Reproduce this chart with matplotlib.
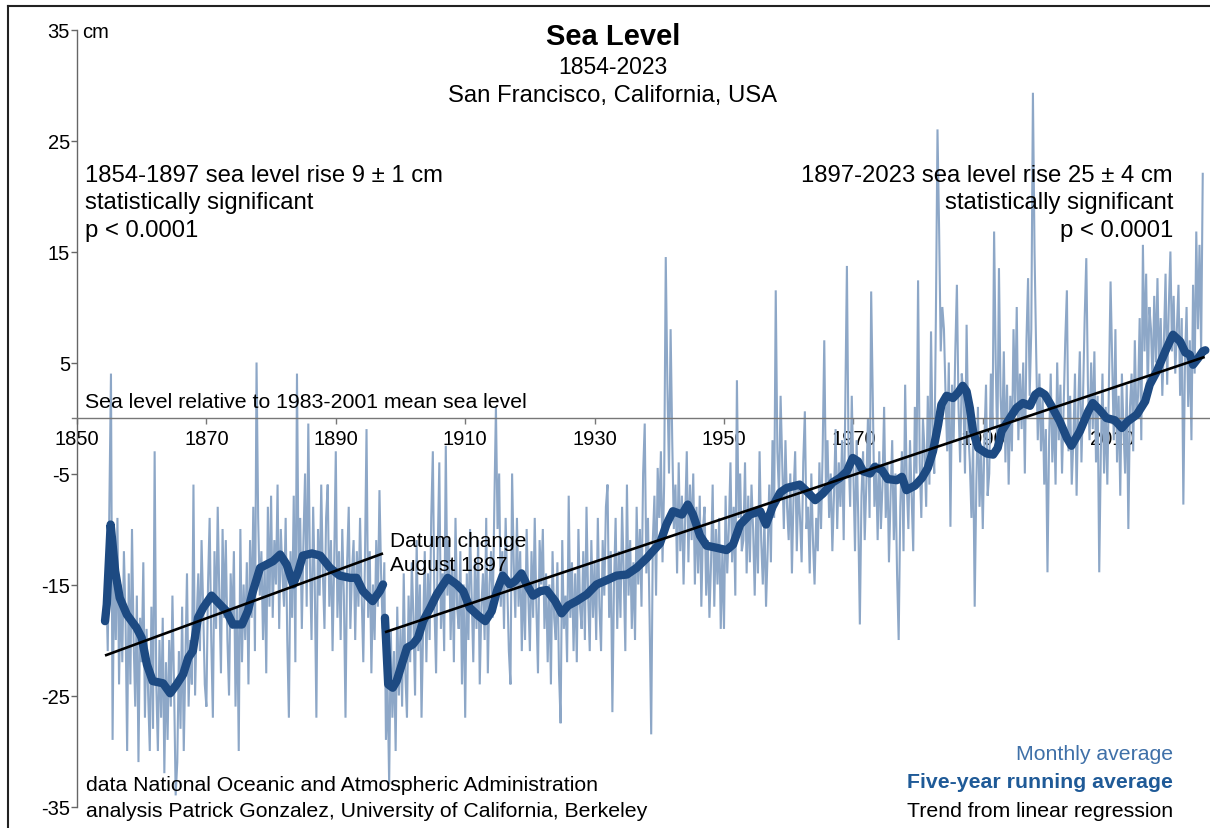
import numpy as np
import matplotlib
matplotlib.use("Agg")
import matplotlib.pyplot as plt

plt.rcParams['font.family'] = ['Liberation Sans', 'DejaVu Sans']
plt.rcParams['axes.unicode_minus'] = False

# ---------------- data ----------------
# monthly average, sampled quarterly (cm), segment before datum change
monthly1_start = 1854.25
monthly1 = [
    -17, -14, -21,
    -8, 4, -29, -12,
    -20, -9, -24, -15,
    -22, -12, -18, -30,
    -14, -24, -10, -20,
    -26, -16, -31, -18,
    -22, -13, -27, -19,
    -25, -30, -17, -28,
    -3, -24, -30, -20,
    -27, -18, -32, -22,
    -29, -20, -26, -16,
    -24, -34, -31, -21,
    -28, -17, -30, -22,
    -14, -26, -20, -24,
    -6, -25, -18, -14,
    -21, -11, -17, -24,
    -26, -15, -9, -20,
    -27, -12, -19, -8,
    -16, -23, -10, -18,
    -11, -20, -25, -14,
    -19, -12, -26, -17,
    -30, -10, -22, -15,
    -20, -13, -24, -11,
    -18, -8, -21, 5,
    -9, -16, -12, -20,
    -13, -23, -8, -17,
    -7, -18, -11, -15,
    -6, -19, -10, -14,
    -17, -9, -20, -27,
    -12, -18, -7, -22,
    4, -14, -9, -19,
    -11, -5, -17, -0.5,
    -13, -20, -8, -15,
    -27, -10, -16, -6,
    -14, -19, -9, -6,
    -17, -11, -21, -13,
    -3, -18, -12, -20,
    -10, -16, -27, -13,
    -8, -19, -14, -11,
    -20, -12, -17, -9,
    -16, -22, -13, -1,
    -18, -12, -23, -15,
    -20, -11, -17, -6.5,
    -14, -19, -13,
]
# monthly average, sampled quarterly (cm), segment after datum change
monthly2_start = 1897.75
monthly2 = [
    -29,
    -24, -33, -19, -27,
    -21, -30, -17, -25,
    -19, -26, -14, -23,
    -27, -16, -22, -13,
    -18, -25, -11, -21,
    -15, -27, -19, -12,
    -22, -14, -20, -9,
    -3, -17, -23, -12,
    -4, -19, -14, -21,
    -2.5, -16, -11, -20,
    -13, -22, -9, -17,
    -19, -12, -24, -15,
    -27, -14, -20, -10,
    -16, -22, -13, -19,
    -11, -24, -17, -14,
    -20, -9, -23, -15,
    -12, -18, -8, 1,
    -10, -5, -17, -12,
    -19, -9, -15, -21,
    -24, -5, -13, -18,
    -9, -17, -12, -21,
    -14, -20, -10, -16,
    -21, -12, -18, -9,
    -17, -23, -11, -15,
    -10, -19, -14, -22,
    -15, -24, -12, -18,
    -20, -13, -23, -27.5,
    -11, -19, -16, -22,
    -7, -18, -13, -21,
    -14, -22, -10, -17,
    -19, -12, -20, -8,
    -16, -21, -11, -18,
    -13, -20, -9, -17,
    -21, -11, -16, -8,
    -6, -18, -12, -26.5,
    -15, -9, -19, -12,
    -18, -8, -14, -21,
    -6, -16, -11, -19,
    -13, -20, -8, -15,
    -10, -17, -5, -0.5,
    -14, -9, -18, -28.5,
    -11, -7, -16, -4.5,
    -9, -3, -13, -6,
    14.5, 3, -5, 8,
    -2, -10, -6, -14,
    -4, -12, -7, -15,
    -9, -3, -13, -6,
    -11, -5, -15, -8,
    -14, -7, -17, -10,
    -8, -16, -11, -18,
    -13, -6, -17, -10,
    -15, -9, -19, -12,
    -19, -7, -14, -10,
    -4, -13, -8, -16,
    3.4, -9, -5, -12,
    -11, -4, -14, -7,
    -13, -6, -10, -16,
    -8, -14, -3, -11,
    -15, -9, -17, -12,
    -6, -13, -2, -9,
    11.5, -3, -7, 2,
    -4, -10, -2, -8,
    -11, -5, -14, -7,
    -3, -12, -6, -9,
    -13, -4, 0.6, -10,
    -8, -14, -5, -11,
    -15, -9, -12, -4,
    -10, -3, 7, -6,
    -2, -9, -5, -12,
    -7, -1, -10, -4,
    -8, -2, -11, 1,
    13.7, -3, -8, 2,
    -5, -12, -2, -9,
    -18.6, -7, -3, -11,
    -6, 0, -9, 11.4,
    2, -8, -4, -11,
    -3, -10, -6, 1,
    -9, -4, -13, -7,
    -2, -11, -5, -14,
    -20, -8, -3, -12,
    3, -6, -10, -2,
    -7, -12, 1, -5,
    12.4, -4, -9, 0,
    -3, -8, 2, -6,
    7.8, -2, -5, 9,
    26, 17, 6, 10,
    8, 2, -3, 5,
    -9.8, 3, -2, 6,
    12, 1, -4, 4,
    2, -5, 8.4, -1,
    -4, -9, -2, -17,
    -6, 1, -8, -3,
    -10, -2, 3, -7,
    -5, 4, -1, 16.8,
    5, -3, 13.5, 2,
    -2, 6, -4, 3,
    -6, 2, -3, 8,
    1, 10, -2, 4,
    -1, 5, -5, 7,
    12.6, 2, 8, 29.3,
    15, 6, -2, 4,
    -3, 2, -6, -1,
    -13.9, -2, 4, -4,
    1, -6, 5, -2,
    3, -5, 1, 7,
    11.5, -3, 2, -6,
    -2, 4, -7, 1,
    6, -4, 2, 9,
    14.4, 3, -2, 5,
    -1, 6, -4, 2,
    -13.9, -3, 4, -5,
    1, -6, 3, 12.3,
    5, -2, 8, -4,
    2, -7, 4, -1,
    -5, 3, -10, 1,
    4, -3, 7, 0,
    2, 9, -2, 15.6,
    6, 13, 2, 10,
    8, 3, 11, 5,
    12.6, 4, 9, 2,
    7, 13, 3, 10,
    15, 6, 11, 4,
    8, 12, 2, 9,
    -7.8, 5, 10, 1,
    7, -2, 12, 4,
    16.8, 8, 15.6, 6,
    22,
]

# five-year running average (year, cm)
ra1_years = [1854.33, 1854.6, 1855.2, 1855.9, 1856.6, 1857.7, 1859.2, 1860.0, 1860.8, 1861.7,
             1863.3, 1864.4, 1865.4, 1866.4, 1867.2, 1867.9, 1868.7, 1869.5, 1870.8, 1872.1,
             1873.1, 1874.1, 1875.5, 1876.4, 1877.2, 1878.3, 1879.3, 1880.3, 1881.4, 1882.4,
             1883.4, 1884.2, 1884.9, 1886.3, 1887.6, 1889.1, 1890.6, 1892.2, 1893.2, 1894.2,
             1895.7, 1896.8, 1897.3]
ra1_values = [-18.3, -16.8, -9.6, -13.8, -16.2, -17.7, -18.9, -19.8, -22.2, -23.7,
              -23.9, -24.8, -24.0, -23.1, -21.6, -21.0, -18.0, -17.1, -16.0, -16.8,
              -17.4, -18.6, -18.6, -17.4, -15.6, -13.5, -13.2, -12.9, -12.3, -13.2,
              -15.0, -13.8, -12.4, -12.2, -12.4, -13.5, -14.2, -14.4, -14.4, -15.6,
              -16.5, -15.6, -15.0]
ra2_years = [1897.6, 1898.1, 1898.8, 1899.4, 1900.2, 1901.0, 1901.9, 1902.7, 1903.5, 1904.6,
             1905.6, 1906.6, 1907.3, 1908.7, 1909.7, 1910.7, 1912.0, 1913.1, 1914.1, 1914.9,
             1915.8, 1916.9, 1917.7, 1918.7, 1919.5, 1920.5, 1921.6, 1922.6, 1923.9, 1924.9,
             1925.9, 1927.2, 1928.8, 1930.3, 1931.9, 1933.4, 1935.0, 1936.5, 1938.1, 1939.0,
             1940.1, 1941.1, 1942.1, 1943.5, 1944.4, 1945.2, 1946.3, 1947.3, 1948.9, 1950.4,
             1951.4, 1952.5, 1954.0, 1955.6, 1956.5, 1957.5, 1958.7, 1959.7, 1961.7, 1962.8,
             1964.1, 1965.3, 1966.8, 1967.9, 1969.0, 1969.9, 1970.7, 1971.5, 1972.6, 1973.3,
             1974.4, 1975.3, 1976.7, 1977.5, 1978.2, 1979.5, 1980.6, 1981.5, 1982.3, 1983.1,
             1983.6, 1984.4, 1985.4, 1986.2, 1986.9, 1987.5, 1988.0, 1988.5, 1989.3, 1990.6,
             1991.6, 1992.3, 1992.9, 1994.2, 1995.2, 1996.2, 1997.3, 1998.1, 1998.8, 1999.6,
             2000.6, 2001.9, 2003.0, 2003.7, 2005.0, 2006.3, 2007.0, 2008.1, 2009.1, 2010.4,
             2011.5, 2012.4, 2013.8, 2015.1, 2015.8, 2016.9, 2018.2, 2018.9, 2019.4, 2020.5,
             2021.3, 2022.0, 2022.5, 2023.3, 2024.0, 2024.4]
ra2_values = [-18.0, -24.0, -24.3, -23.7, -22.2, -20.7, -20.4, -19.8, -18.3, -17.1,
              -15.9, -15.0, -14.4, -15.0, -15.6, -17.1, -17.8, -18.3, -17.4, -15.6,
              -14.2, -15.0, -14.7, -14.0, -15.0, -16.0, -15.6, -15.5, -16.5, -17.6,
              -16.9, -16.5, -15.9, -15.0, -14.6, -14.2, -14.1, -13.5, -12.6, -12.0,
              -11.3, -9.6, -8.4, -8.7, -7.8, -8.7, -10.6, -11.5, -11.7, -11.9,
              -11.4, -9.6, -8.7, -8.4, -9.6, -8.0, -6.7, -6.3, -6.0, -6.6,
              -7.4, -6.8, -5.8, -5.4, -4.8, -3.6, -3.9, -4.8, -5.0, -4.4,
              -4.7, -5.5, -5.6, -5.3, -6.5, -6.1, -5.4, -4.5, -3.0, -0.6,
              1.2, 2.0, 1.8, 2.3, 2.9, 2.4, 0.9, -1.2, -2.7, -3.2,
              -3.3, -2.7, -1.2, 0.0, 0.9, 1.35, 1.1, 2.1, 2.4, 2.1,
              1.1, -0.3, -1.8, -2.5, -1.2, 0.6, 1.35, 0.7, 0.0, -0.2,
              -0.9, -0.3, 0.3, 1.5, 3.0, 4.2, 6.0, 6.9, 7.5, 6.9,
              5.9, 5.7, 4.8, 5.4, 6.0, 6.1]

# linear regression trends (end points, year, cm)
trend1_years = [1854.33, 1897.3]
trend1_values = [-21.4, -12.2]
trend2_years = [1897.6, 2024.3]
trend2_values = [-19.3, 5.5]

xticks = [1850, 1870, 1890, 1910, 1930, 1950, 1970, 1990, 2010]
yticks = [-35, -25, -15, -5, 5, 15, 25, 35]

# ---------------- figure ----------------
W, H = 1210, 829
fig = plt.figure(figsize=(W / 100, H / 100), dpi=100)
fig.patch.set_facecolor('white')

def fx(px):
    return px / W

def fy(py):
    return 1 - py / H

ax = fig.add_axes([fx(72), fy(807.5), (1210 - 72) / W, (807.5 - 30.5) / H])
ax.set_xlim(1849.227, 2025.12)
ax.set_ylim(-35, 35)
ax.set_facecolor('none')

t1 = monthly1_start + 0.25 * np.arange(len(monthly1))
t2 = monthly2_start + 0.25 * np.arange(len(monthly2))
tm = np.concatenate([t1, t2])
vm = np.concatenate([np.array(monthly1, float), np.array(monthly2, float)])
ax.plot(tm, vm, color='#8da7c7', lw=1.5, zorder=2, solid_joinstyle='miter')

for ys, vs in [(ra1_years, ra1_values), (ra2_years, ra2_values)]:
    ax.plot(ys, vs, color='#1d4a82', lw=6, zorder=3,
            solid_capstyle='round', solid_joinstyle='round')

for ys, vs in [(trend1_years, trend1_values), (trend2_years, trend2_values)]:
    ax.plot(ys, vs, color='black', lw=1.9, zorder=4, solid_capstyle='butt')

for s in ['top', 'right']:
    ax.spines[s].set_visible(False)
ax.spines['left'].set_position(('data', 1850))
ax.spines['left'].set_color('#666666')
ax.spines['left'].set_linewidth(1.0)
ax.spines['bottom'].set_position(('data', 0))
ax.spines['bottom'].set_color('#777777')
ax.spines['bottom'].set_linewidth(1.0)

ax.set_xticks(xticks)
ax.set_xticklabels([str(v) for v in xticks])
ax.set_yticks(yticks)
ax.set_yticklabels([str(v) for v in yticks])
ax.tick_params(axis='x', direction='out', length=4, width=1, color='#777777',
               labelsize=14.5, pad=4)
ax.tick_params(axis='y', direction='out', length=4, width=1, color='#666666',
               labelsize=14.5, pad=1)

# ---------------- text ----------------
fig.text(fx(613), fy(37), 'Sea Level', ha='center', va='center',
         fontsize=21, fontweight='bold')
fig.text(fx(613), fy(67), '1854-2023', ha='center', va='center', fontsize=16.5)
fig.text(fx(613), fy(96), 'San Francisco, California, USA', ha='center',
         va='center', fontsize=17.2)

fig.text(fx(82), fy(32), 'cm', ha='left', va='center', fontsize=14.5)

left_lines = ['1854-1897 sea level rise 9 ± 1 cm', 'statistically significant',
              'p < 0.0001']
right_lines = ['1897-2023 sea level rise 25 ± 4 cm', 'statistically significant',
               'p < 0.0001']
for i, (l, r) in enumerate(zip(left_lines, right_lines)):
    by = 182 + i * 27.5
    fig.text(fx(85), fy(by), l, ha='left', va='baseline', fontsize=17.2, zorder=5)
    fig.text(fx(1173), fy(by), r, ha='right', va='baseline', fontsize=17.2, zorder=5)

fig.text(fx(85), fy(408), 'Sea level relative to 1983-2001 mean sea level',
         ha='left', va='baseline', fontsize=15.3)

fig.text(fx(390), fy(547), 'Datum change', ha='left', va='baseline', fontsize=15)
fig.text(fx(390), fy(571), 'August 1897', ha='left', va='baseline', fontsize=15)

fig.text(fx(86), fy(791), 'data National Oceanic and Atmospheric Administration',
         ha='left', va='baseline', fontsize=15.3)
fig.text(fx(86), fy(817), 'analysis Patrick Gonzalez, University of California, Berkeley',
         ha='left', va='baseline', fontsize=15.3)

fig.text(fx(1173), fy(760), 'Monthly average', ha='right', va='baseline',
         fontsize=15.3, color='#3f70a8')
fig.text(fx(1173), fy(788), 'Five-year running average', ha='right', va='baseline',
         fontsize=15.3, color='#1f5a97', fontweight='bold')
fig.text(fx(1173), fy(817), 'Trend from linear regression', ha='right',
         va='baseline', fontsize=15.3, color='black')

# frame (left and top edges visible)
fig.add_artist(plt.Line2D([fx(8), fx(8)], [fy(7), fy(829)], color='#222222',
                          lw=1.5, transform=fig.transFigure))
fig.add_artist(plt.Line2D([fx(8), fx(1210)], [fy(7), fy(7)], color='#222222',
                          lw=1.5, transform=fig.transFigure))

fig.savefig('out.png', dpi=100)
